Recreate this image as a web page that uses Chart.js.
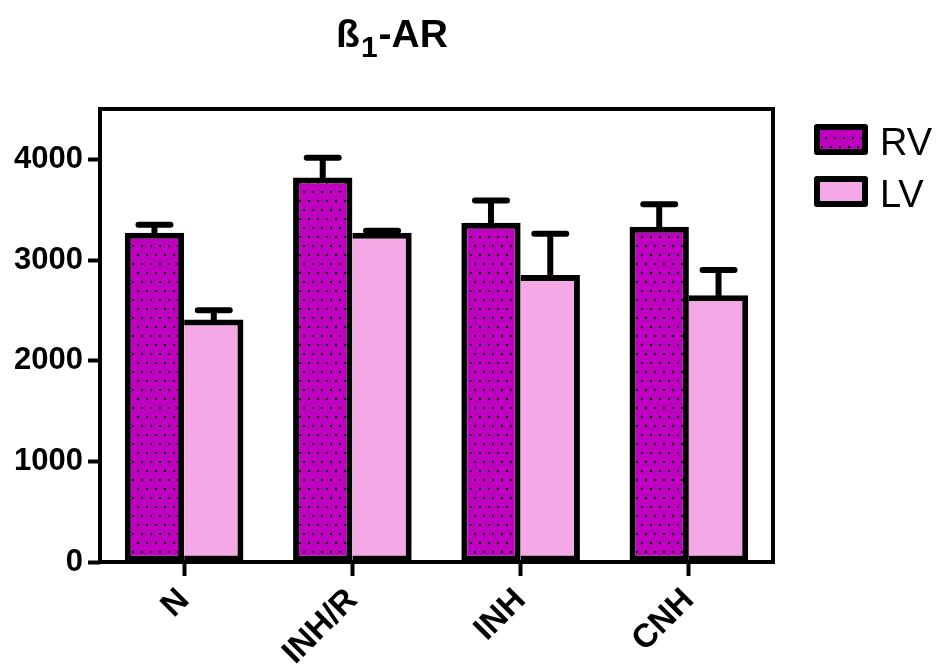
<!DOCTYPE html>
<html>
<head>
<meta charset="utf-8">
<script src="https://cdn.jsdelivr.net/npm/chart.js@4"></script>
<style>
  body { margin: 0; background: #fff; }
  #wrap { width: 942px; height: 672px; }
</style>
</head>
<body>
<div id="wrap"><canvas id="chart" width="942" height="672"></canvas></div>
<script>
// data
const categories = ["N", "INH/R", "INH", "CNH"];
const rvValues = [3270, 3820, 3370, 3330];
const rvErrors = [80, 195, 220, 225];
const lvValues = [2410, 3270, 2850, 2650];
const lvErrors = [90, 20, 410, 250];
const yTicks = [0, 1000, 2000, 3000, 4000];

const FONT = "'Liberation Sans', Arial, sans-serif";

function dotPattern() {
  const c = document.createElement("canvas");
  c.width = 18; c.height = 18;
  const g = c.getContext("2d");
  g.fillStyle = "#C000C0";
  g.fillRect(0, 0, 18, 18);
  g.fillStyle = "#000";
  [[2, 2], [11, 2], [6, 11], [15, 11]].forEach(p => g.fillRect(p[0], p[1], 2, 2));
  return g.createPattern(c, "repeat");
}
const rvFill = dotPattern();
const lvFill = "#F5A8E6";

const errorBars = {
  id: "errorBars",
  afterDatasetsDraw(chart) {
    const ctx = chart.ctx;
    const y = chart.scales.y;
    ctx.save();
    ctx.strokeStyle = "#000";
    ctx.lineWidth = 6;
    ctx.lineCap = "round";
    chart.data.datasets.forEach((ds, i) => {
      chart.getDatasetMeta(i).data.forEach((bar, j) => {
        const top = y.getPixelForValue(ds.data[j] + ds.errors[j]);
        ctx.beginPath();
        ctx.moveTo(bar.x, bar.y);
        ctx.lineTo(bar.x, top);
        ctx.moveTo(bar.x - 16, top);
        ctx.lineTo(bar.x + 16, top);
        ctx.stroke();
      });
    });
    ctx.restore();
  }
};

const frame = {
  id: "frame",
  afterDraw(chart) {
    const ctx = chart.ctx;
    const a = chart.chartArea;
    ctx.save();
    ctx.strokeStyle = "#000";
    ctx.lineWidth = 4;
    ctx.strokeRect(a.left, a.top, a.right - a.left, a.bottom - a.top);

    // title with subscript
    ctx.fillStyle = "#000";
    ctx.textBaseline = "alphabetic";
    const big = "bold 39px " + FONT, small = "bold 30px " + FONT;
    ctx.font = big;
    const w1 = ctx.measureText("ß").width, w3 = ctx.measureText("-AR").width;
    ctx.font = small;
    const w2 = ctx.measureText("1").width;
    let x = 392 - (w1 + w2 + w3 + 2) / 2;
    ctx.font = big; ctx.fillText("ß", x, 47); x += w1 + 1;
    ctx.font = small; ctx.fillText("1", x, 57); x += w2 + 1;
    ctx.font = big; ctx.fillText("-AR", x, 47);

    // legend
    const items = [["RV", rvFill, 124], ["LV", lvFill, 176]];
    items.forEach(it => {
      ctx.fillStyle = it[1];
      ctx.fillRect(817, it[2] + 3, 48, 25);
      ctx.lineWidth = 6;
      ctx.lineJoin = "round";
      ctx.strokeRect(817, it[2] + 3, 48, 25);
      ctx.fillStyle = "#000";
      ctx.font = "38px " + FONT;
      ctx.fillText(it[0], 880, it[2] + 31);
    });
    ctx.restore();
  }
};

new Chart(document.getElementById("chart"), {
  type: "bar",
  data: {
    labels: categories,
    datasets: [
      {
        label: "RV",
        data: rvValues,
        errors: rvErrors,
        backgroundColor: rvFill,
        borderColor: "#000",
        borderWidth: 6,
        borderSkipped: false
      },
      {
        label: "LV",
        data: lvValues,
        errors: lvErrors,
        backgroundColor: lvFill,
        borderColor: "#000",
        borderWidth: { top: 6, right: 6, bottom: 6, left: 0 },
        borderSkipped: false
      }
    ]
  },
  options: {
    responsive: false,
    animation: false,
    categoryPercentage: 0.705,
    barPercentage: 1.0,
    layout: { padding: { top: 109, right: 169, left: 0, bottom: 0 } },
    plugins: {
      legend: { display: false },
      title: { display: false },
      tooltip: { enabled: false }
    },
    scales: {
      x: {
        afterFit: s => { s.height = 110; },
        border: { display: false },
        grid: {
          offset: false,
          drawOnChartArea: false,
          drawTicks: true,
          tickLength: 14,
          tickWidth: 4,
          tickColor: "#000"
        },
        ticks: {
          color: "#000",
          font: { family: FONT, size: 33, weight: "bold" },
          minRotation: 45,
          maxRotation: 45,
          padding: 5
        }
      },
      y: {
        min: 0,
        max: 4500,
        afterFit: s => { s.width = 100; },
        afterBuildTicks: s => { s.ticks = yTicks.map(v => ({ value: v })); },
        border: { display: false },
        grid: {
          drawOnChartArea: false,
          drawTicks: true,
          tickLength: 12,
          tickWidth: 4,
          tickColor: "#000"
        },
        ticks: {
          color: "#000",
          font: { family: FONT, size: 31, weight: "bold" },
          padding: 5,
          callback: v => String(v)
        }
      }
    }
  },
  plugins: [errorBars, frame]
});
</script>
</body>
</html>
